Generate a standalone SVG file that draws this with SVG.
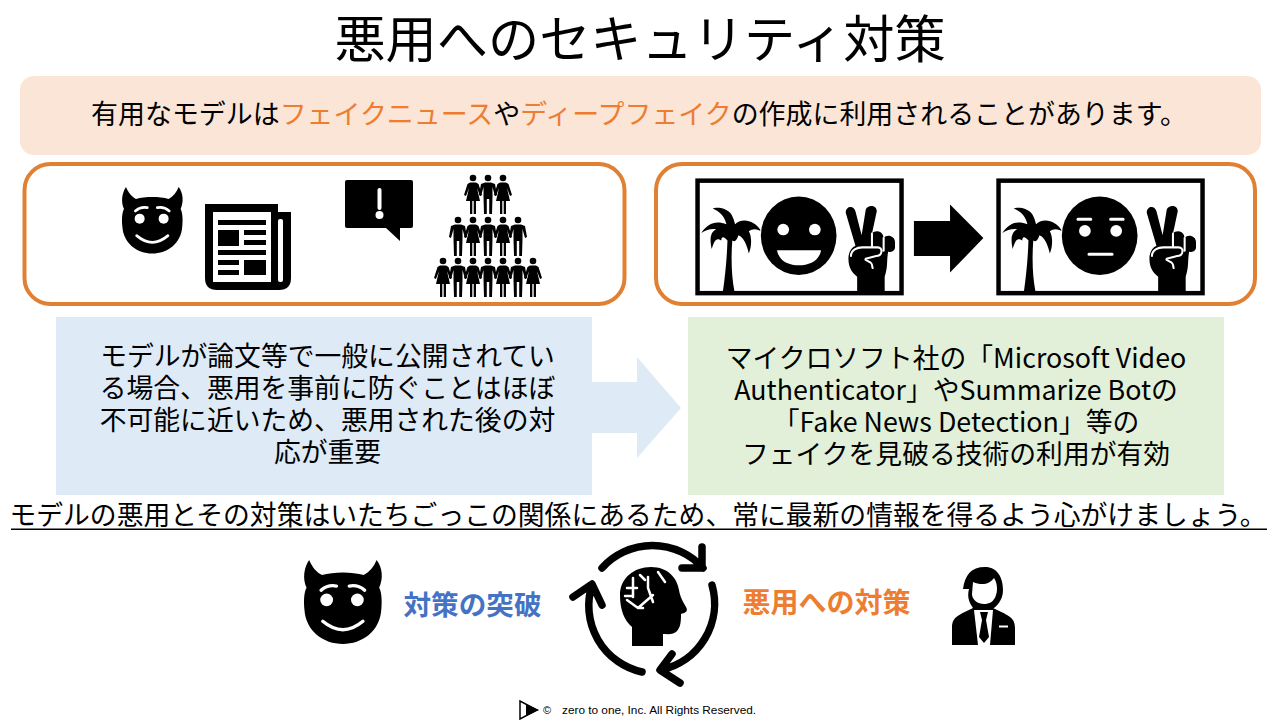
<svg xmlns="http://www.w3.org/2000/svg" xmlns:xlink="http://www.w3.org/1999/xlink" width="1280" height="720" viewBox="0 0 1280 720">
<style>
text{font-family:"Noto Sans CJK JP","Noto Sans",sans-serif;fill:#000}
.b{font-size:26.800px;text-anchor:middle}
.or{fill:#ed7d31}
.box{fill:#fff;stroke:#e08033;stroke-width:4}
.w{fill:none;stroke:#fff;stroke-linecap:round}
.frame{fill:#fff;stroke:#000;stroke-width:13}
.latin{font-family:"Liberation Sans",sans-serif}
</style>
<defs>
<g id="devil">
<path d="M12 0C20 18 28 28 42 36C70 28 112 28 140 36C154 28 164 16 170 0C184 18 186 44 176 66C182 76 183 100 181 118C178 170 136 200 91 200C46 200 4 170 1 118C-1 98 0 76 6 66C-4 44 0 18 12 0Z"/>
<circle cx="53" cy="95" r="15" fill="#fff"/><circle cx="125" cy="95" r="15" fill="#fff"/>
<path class="w" stroke-width="8" d="M40 72Q56 58 76 62M142 72Q126 58 106 62M44 146Q91 186 138 146"/>
</g>
<g id="man"><circle cx="0" cy="3" r="3.300"/><path d="M-3 7.500H3L7 9 9 20 7 21 4.500 12V21.500L4 39H1.200V24H-1.200V39H-4L-4.500 21.500V12L-7 21-9 20-7 9Z"/></g>
<g id="woman"><circle cx="0" cy="3" r="3.300"/><path d="M-3 7.500H3L5.500 9 9 20 7 21 4 13 7 26H3V39H.700V26H-.700V39H-3V26H-7L-4 13-7 21-9 20-5.500 9Z"/></g>
<g id="fr">
<rect x="51" y="31" width="593" height="327" class="frame"/>
<path id="palm" d="M125 352C132 300 136 260 138 205C130 195 120 190 120 205C105 195 100 205 92 230C85 195 90 180 105 172C90 170 75 175 62 183C80 155 105 145 135 158C130 135 115 120 95 112C105 108 135 108 150 130C155 140 158 148 160 158C175 140 215 140 238 180C225 170 210 170 200 178C210 195 208 225 200 243C195 220 185 195 170 190C165 205 160 210 152 205C148 260 150 310 158 352Z"/>
<path d="M515 352V310C495 295 488 275 490 250C492 235 500 225 510 220L482 125C480 105 505 100 510 120L528 190 540 115C545 100 572 100 572 120L558 185C565 175 585 175 590 190L592 198C600 185 625 190 625 210V225C625 235 612 240 605 238C600 265 605 280 595 310V352Z"/>
<path class="w" stroke-width="6" d="M497 250C497 232 515 225 530 225H575C590 225 590 250 570 250L540 258C535 262 550 265 555 270C560 275 558 280 560 285M558 185V222M592 198V235"/>
<ellipse cx="345" cy="191" rx="113" ry="117" fill="#fff"/>
<ellipse cx="345" cy="191" rx="110" ry="114"/>
</g>
</defs>

<text id="title" x="640" y="58" font-size="51.200" text-anchor="middle">悪用へのセキュリティ対策</text>

<g id="banner"><rect x="20" y="76" width="1241" height="79" rx="14" fill="#fbe5d6"/>
<text x="633.500" y="124" dx="5.500" font-size="26.950" text-anchor="middle">有用なモデルは<tspan class="or">フェイクニュース</tspan>や<tspan class="or">ディープフェイク</tspan>の作成に利用されることがあります。</text></g>

<g id="panel-left"><rect class="box" x="24.500" y="164" width="600" height="140" rx="26"/>
<use xlink:href="#devil" transform="translate(122 187) scale(.333)"/>
<g id="news"><path d="M205 204H278V212H291V278Q291 290 279 290H217Q205 290 205 278Z"/><rect x="213" y="212" width="58" height="70" fill="#fff"/><rect x="278" y="219" width="5" height="63" rx="2" fill="#fff"/>
<path d="M218 220H266V225H218ZM218 230H239V246H218ZM244 230H266V235H244ZM244 240H266V245H244ZM218 250H266V255H218ZM218 260H239V265H218ZM218 270H239V275H218ZM244 260H266V275H244Z"/></g>
<g id="alert"><path d="M347 180H411Q413 180 413 182V226Q413 228 411 228H400V241L386 228H347Q345 228 345 226V182Q345 180 347 180Z"/><rect x="377.500" y="188" width="4" height="22" rx="2" fill="#fff"/><circle cx="379.500" cy="215" r="4" fill="#fff"/></g>
<g id="crowd">
<use xlink:href="#woman" x="473" y="175"/><use xlink:href="#man" x="488" y="175"/><use xlink:href="#woman" x="503" y="175"/>
<use xlink:href="#man" x="458" y="217"/><use xlink:href="#woman" x="473" y="217"/><use xlink:href="#man" x="488" y="217"/><use xlink:href="#woman" x="503" y="217"/><use xlink:href="#man" x="518" y="217"/>
<use xlink:href="#woman" x="443" y="258"/><use xlink:href="#man" x="458" y="258"/><use xlink:href="#woman" x="473" y="258"/><use xlink:href="#man" x="488" y="258"/><use xlink:href="#woman" x="503" y="258"/><use xlink:href="#man" x="518" y="258"/><use xlink:href="#woman" x="533" y="258"/>
</g></g>

<g id="panel-right"><rect class="box" x="656" y="164" width="599" height="140" rx="26"/>
<g id="frame-a" transform="translate(680 170) scale(.344)"><use xlink:href="#fr"/><circle cx="300" cy="173" r="17" fill="#fff"/><circle cx="392" cy="173" r="17" fill="#fff"/><path d="M282 233H410C405 265 375 277 346 277C315 277 288 265 282 233Z" fill="#fff"/></g>
<path id="big-arrow" transform="translate(680 170) scale(.344)" d="M680 148H785V100L882 198 785 298V250H680Z"/>
<g id="frame-b" transform="translate(981 170) scale(.344)"><use xlink:href="#fr"/><circle cx="302" cy="177" r="17" fill="#fff"/><circle cx="393" cy="177" r="17" fill="#fff"/><path class="w" stroke-width="9" d="M282 143H319M377 143H413M314 245H381"/></g>
</g>

<g id="connectors"><path d="M592 382H637V357L681 408 637 458V433H592Z" fill="#deebf7"/></g>

<g id="note-left"><rect x="56" y="317" width="536" height="178" fill="#deebf7"/>
<text class="b"><tspan x="327.500" y="366">モデルが論文等で一般に公開されてい</tspan><tspan x="327.500" y="398">る場合、悪用を事前に防ぐことはほぼ</tspan><tspan x="327.500" y="430">不可能に近いため、悪用された後の対</tspan><tspan x="327.500" y="462">応が重要</tspan></text></g>

<g id="note-right"><rect x="688" y="317" width="536" height="178" fill="#e2f0d9"/>
<text class="b"><tspan x="956" y="368">マイクロソフト社の「Microsoft Video</tspan><tspan x="956" y="400">Authenticator」やSummarize Botの</tspan><tspan x="956" y="432">「Fake News Detection」等の</tspan><tspan x="956" y="464">フェイクを見破る技術の利用が有効</tspan></text></g>

<g id="lesson"><text x="638" y="525" font-size="26.800" text-anchor="middle">モデルの悪用とその対策はいたちごっこの関係にあるため、常に最新の情報を得るよう心がけましょう。</text>
<rect x="11" y="528.500" width="1256" height="1.500"/></g>

<g id="attacker"><use xlink:href="#devil" transform="translate(304 560) scale(.427 .42)"/></g>
<text id="label-a" x="472.500" y="615" font-size="27.600" font-weight="700" text-anchor="middle" style="fill:#4472c4">対策の突破</text>

<g id="cycle">
<g fill="none" stroke="#000" stroke-width="7.500" stroke-linecap="round" stroke-linejoin="round">
<path d="M602 568A68 68 0 0 1 703 568M702 547V568H682"/>
<path d="M712 585A68 68 0 0 1 661 670M672 654L660 670 680 683"/>
<path d="M642 672A68 68 0 0 1 592 585M573 597L592 584 602 605"/>
</g>
<path d="M632 646V627C624 620 620 610 620 595C620 578 634 567 651 567C668 567 677 578 679 590C680 596 682 600 686 607C689 612 684 613 681 614C681 620 681 628 676 632C672 635 667 634 663 634V646Z"/>
<path d="M648 577V588L653 602M627 588H637M633 578V597M625 596H633M627 600L638 608H643M638 608L653 595M658 572L665 582M640 575L645 580" stroke="#fff" stroke-width="2.500" stroke-linecap="round" fill="none"/>
</g>

<text id="label-b" x="826.500" y="613" font-size="28" font-weight="700" text-anchor="middle" style="fill:#ed7d31">悪用への対策</text>

<g id="defender">
<path d="M952 645V628C952 618 956 616 973 608H993C1010 616 1015 618 1015 628V645Z"/>
<path d="M963 589C965 575 971 567 985 567C997 567 1003 577 1003 590C1003 598 999 604 994 608H973C969 602 967 597 969 589Z"/>
<path d="M973 582C982 586 990 584 994 578C997 582 998 590 996 595C994 602 989 604 984 604C978 604 972 600 972 594Z" fill="#fff"/>
<path d="M974 610H993L990 645H978Z" fill="#fff"/>
<path d="M980 612H988L986 620 989 637 984 643 979 637 982 620Z"/>
<rect x="999" y="625.500" width="9" height="2" fill="#fff"/>
</g>

<g id="footer">
<path d="M520 701V719L537 710Z" fill="#fff" stroke="#000" stroke-width="1.500"/><path d="M526 704L539 710 526 716Z"/>
<text class="latin" x="543" y="714" font-size="11" style="font-family:'Liberation Sans',sans-serif">©</text>
<text class="latin" x="562" y="714" font-size="11.800" style="font-family:'Liberation Sans',sans-serif">zero to one, Inc. All Rights Reserved.</text></g>
</svg>
